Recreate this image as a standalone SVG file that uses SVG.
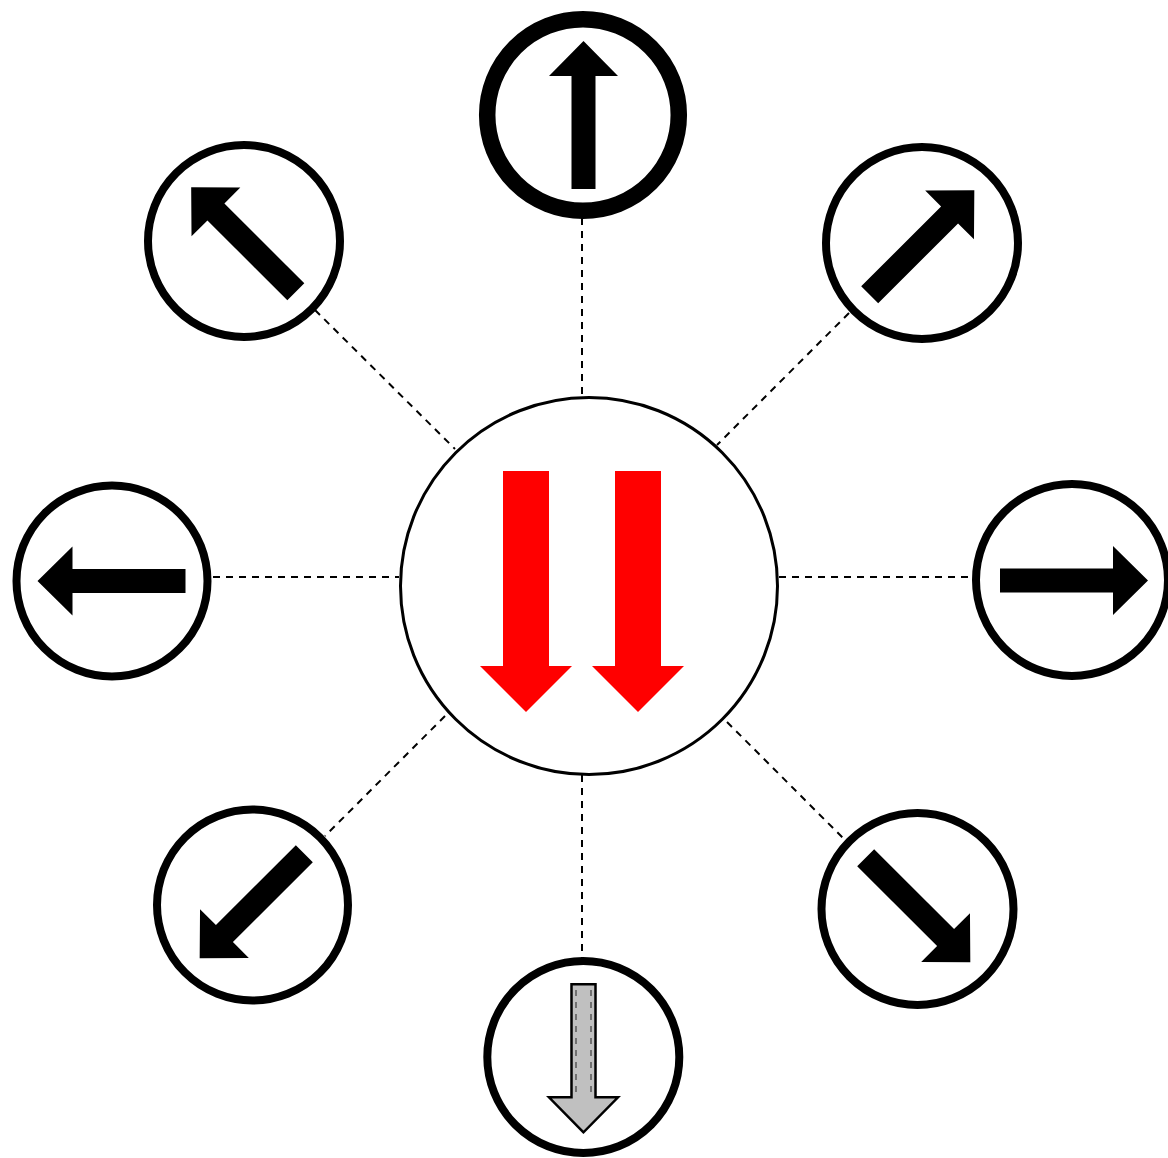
<svg xmlns="http://www.w3.org/2000/svg" width="1168" height="1158" viewBox="0 0 1168 1158">
  <style>
    .ring { fill: #ffffff; stroke: #000000; stroke-width: 8; }
    .ring-thick { fill: #ffffff; stroke: #000000; stroke-width: 16.5; }
    .hub { fill: #ffffff; stroke: #000000; stroke-width: 3; }
    .arrow { fill: #000000; }
    .arrow-gray { fill: #c0c0c0; stroke: #000000; stroke-width: 2.5; stroke-linejoin: miter; }
    .inner-dash { stroke: #555555; stroke-width: 1.5; stroke-dasharray: 6 6; fill: none; }
    .red { fill: #ff0000; }
    .link { stroke: #000000; stroke-width: 2; stroke-dasharray: 7 6; fill: none; }
  </style>
  <defs>
    <path id="arr" d="M0,-74 L34.5,-39 L12,-39 L12,74 L-12,74 L-12,-39 L-34.5,-39 Z"/>
  </defs>
  <rect x="0" y="0" width="1168" height="1158" fill="#ffffff"/>

  <g id="connectors">
    <line class="link" x1="582" y1="218" x2="582" y2="397"/>
    <line class="link" x1="582" y1="775" x2="582" y2="958"/>
    <line class="link" x1="213" y1="577" x2="399" y2="577"/>
    <line class="link" x1="779" y1="577" x2="975" y2="577"/>
    <line class="link" x1="315" y1="310" x2="455" y2="449"/>
    <line class="link" x1="849" y1="313" x2="717" y2="445"/>
    <line class="link" x1="445" y1="716" x2="325" y2="836"/>
    <line class="link" x1="727" y1="722" x2="843" y2="838"/>
  </g>

  <g id="center">
    <circle class="hub" cx="589" cy="586" r="188.5"/>
    <path class="red" d="M503,471 L549,471 L549,666 L572,666 L526,712 L480,666 L503,666 Z"/>
    <path class="red" d="M615,471 L661,471 L661,666 L684,666 L638,712 L592,666 L615,666 Z"/>
  </g>

  <g id="node-up">
    <circle class="ring-thick" cx="583" cy="115" r="95.8"/>
    <use href="#arr" class="arrow" transform="translate(583.5,115)"/>
  </g>

  <g id="node-up-left">
    <circle class="ring" cx="244" cy="241" r="96"/>
    <use href="#arr" class="arrow" transform="translate(243.5,239.5) rotate(-45)"/>
  </g>

  <g id="node-up-right">
    <circle class="ring" cx="922" cy="243" r="96"/>
    <use href="#arr" class="arrow" transform="translate(922,242.5) rotate(45)"/>
  </g>

  <g id="node-left">
    <circle class="ring" cx="112" cy="581" r="95.5"/>
    <use href="#arr" class="arrow" transform="translate(111.5,581) rotate(-90)"/>
  </g>

  <g id="node-right">
    <circle class="ring" cx="1072" cy="580" r="96"/>
    <use href="#arr" class="arrow" transform="translate(1074,580.5) rotate(90)"/>
  </g>

  <g id="node-down-left">
    <circle class="ring" cx="252.5" cy="905" r="95.5"/>
    <use href="#arr" class="arrow" transform="translate(252,906) rotate(-135)"/>
  </g>

  <g id="node-down-right">
    <circle class="ring" cx="917.5" cy="909" r="96"/>
    <use href="#arr" class="arrow" transform="translate(918,910) rotate(135)"/>
  </g>

  <g id="node-down">
    <circle class="ring" cx="583.3" cy="1057" r="96"/>
    <use href="#arr" class="arrow-gray" transform="translate(583.5,1058.3) rotate(180)"/>
    <line class="inner-dash" x1="576" y1="990" x2="576" y2="1096"/>
    <line class="inner-dash" x1="591" y1="990" x2="591" y2="1096"/>
  </g>
</svg>
